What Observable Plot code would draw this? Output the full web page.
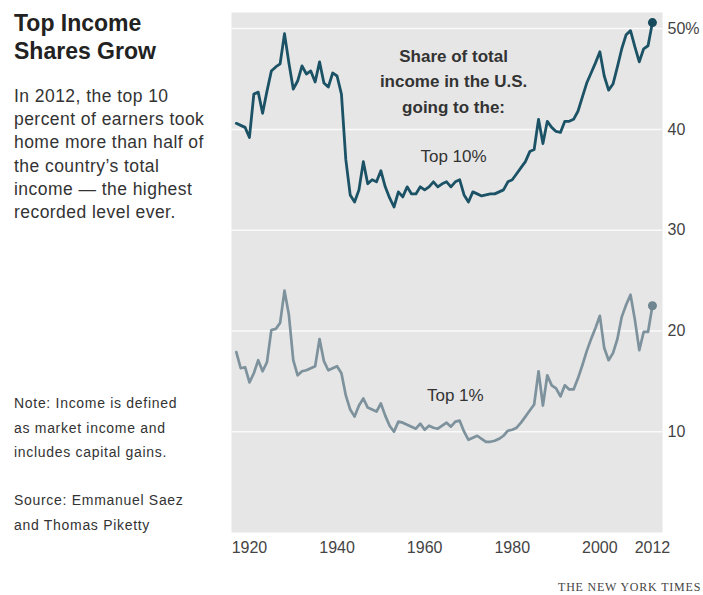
<!DOCTYPE html>
<html>
<head>
<meta charset="utf-8">
<script src="https://cdn.jsdelivr.net/npm/d3@7"></script>
<script src="https://cdn.jsdelivr.net/npm/@observablehq/plot@0.6"></script>
<style>
  html, body { margin: 0; padding: 0; background: #fff; }
  #page { position: relative; width: 703px; height: 595px; overflow: hidden; font-family: "Liberation Sans", Arial, sans-serif; color: #333; }
  .blk { position: absolute; left: 14px; white-space: nowrap; }
  #title { top: 9px; font-size: 23px; line-height: 28px; font-weight: bold; color: #222; }
  #desc { top: 85px; font-size: 17.5px; line-height: 23.2px; letter-spacing: 0.45px; color: #333; }
  #note { top: 391px; font-size: 14px; line-height: 24.5px; letter-spacing: 0.7px; color: #333; }
  #source { top: 488px; font-size: 14px; line-height: 24.5px; letter-spacing: 0.7px; color: #333; }
  #chart { position: absolute; left: 225px; top: 0; }
  #credit { position: absolute; left: 558px; top: 580px; font-family: "Liberation Serif", "Times New Roman", serif; font-size: 12px; letter-spacing: 0.8px; color: #444; white-space: nowrap; }
</style>
</head>
<body>
<div id="page">
  <div id="title" class="blk">Top Income<br>Shares Grow</div>
  <div id="desc" class="blk">In 2012, the top 10<br>percent of earners took<br>home more than half of<br>the country’s total<br>income — the highest<br>recorded level ever.</div>
  <div id="note" class="blk">Note: Income is defined<br>as market income and<br>includes capital gains.</div>
  <div id="source" class="blk">Source: Emmanuel Saez<br>and Thomas Piketty</div>
  <div id="chart"></div>
  <div id="credit">THE NEW YORK TIMES</div>
</div>
<script>
const years = [
  1917,1918,1919,1920,1921,1922,1923,1924,1925,1926,1927,1928,1929,1930,1931,1932,1933,1934,1935,1936,
  1937,1938,1939,1940,1941,1942,1943,1944,1945,1946,1947,1948,1949,1950,1951,1952,1953,1954,1955,1956,
  1957,1958,1959,1960,1961,1962,1963,1964,1965,1966,1967,1968,1969,1970,1971,1972,1973,1974,1975,1976,
  1977,1978,1979,1980,1981,1982,1983,1984,1985,1986,1987,1988,1989,1990,1991,1992,1993,1994,1995,1996,
  1997,1998,1999,2000,2001,2002,2003,2004,2005,2006,2007,2008,2009,2010,2011,2012
];
const top10 = [
  40.6,40.4,40.2,39.2,43.5,43.7,41.6,43.8,45.8,46.2,46.5,49.5,46.6,44.0,44.8,46.3,45.5,45.8,44.7,46.7,
  44.6,44.2,45.6,45.3,43.5,37.0,33.5,32.8,34.0,36.8,34.6,35.0,34.8,35.9,34.3,33.2,32.3,33.8,33.3,34.3,
  33.6,33.6,34.3,34.0,34.3,34.8,34.3,34.6,34.8,34.3,34.8,35.0,33.5,32.8,33.8,33.6,33.4,33.5,33.6,33.6,
  33.8,34.0,34.8,35.0,35.6,36.2,36.8,37.8,38.0,41.0,38.6,40.8,40.2,39.8,39.7,40.8,40.8,41.0,41.8,43.2,
  44.6,45.6,46.6,47.7,45.3,43.9,44.5,46.2,48.0,49.4,49.8,48.2,46.7,48.0,48.3,50.6
];
const top1 = [
  17.9,16.3,16.4,14.9,15.8,17.1,16.0,16.9,20.1,20.2,20.8,24.0,21.6,17.1,15.6,16.0,16.1,16.3,16.5,19.2,
  17.0,16.1,16.3,16.5,15.8,13.6,12.2,11.5,12.6,13.3,12.4,12.2,12.0,12.8,11.6,10.6,10.0,11.0,10.9,10.7,
  10.5,10.3,10.8,10.2,10.6,10.4,10.3,10.6,10.9,10.5,11.0,11.1,10.0,9.2,9.4,9.6,9.3,9.0,9.0,9.1,
  9.3,9.6,10.1,10.2,10.4,10.9,11.5,12.1,12.7,16.0,12.6,15.6,14.6,14.3,13.5,14.6,14.2,14.2,15.3,16.6,
  18.0,19.2,20.3,21.5,18.3,17.1,17.8,19.2,21.4,22.6,23.6,21.1,18.1,19.9,19.9,22.5
];
const yTicks = [10, 20, 30, 40, 50];
const xTicks = [1920, 1940, 1960, 1980, 2000, 2012];
const headerLines = ["Share of total", "income in the U.S.", "going to the:"];
const seriesLabels = ["Top 10%", "Top 1%"];

const rows10 = years.map((y, i) => ({year: y, value: top10[i]}));
const rows1 = years.map((y, i) => ({year: y, value: top1[i]}));
const last10 = [rows10[rows10.length - 1]];
const last1 = [rows1[rows1.length - 1]];

const c10 = "#1b5265";
const c1 = "#7d929c";

const chart = Plot.plot({
  width: 478,
  height: 560,
  marginLeft: 6,
  marginRight: 41,
  marginTop: 12,
  marginBottom: 28,
  x: {domain: [1915.9, 2014.3]},
  y: {domain: [0, 51.6]},
  style: {background: "transparent", fontFamily: "'Liberation Sans', Arial, sans-serif", overflow: "visible"},
  marks: [
    Plot.frame({fill: "#e6e6e6", stroke: null}),
    Plot.ruleY(yTicks, {stroke: "#fafafa", strokeWidth: 1.5}),
    Plot.line(rows1, {x: "year", y: "value", stroke: c1, strokeWidth: 2.7, strokeLinejoin: "round"}),
    Plot.line(rows10, {x: "year", y: "value", stroke: c10, strokeWidth: 2.8, strokeLinejoin: "round"}),
    Plot.dot(last1, {x: "year", y: "value", r: 4.5, fill: "#6f8590", stroke: null}),
    Plot.dot(last10, {x: "year", y: "value", r: 4.5, fill: "#174a5c", stroke: null}),
    Plot.text([headerLines.join("\n")], {x: 1966.6, y: 48.5, text: d => d, lineAnchor: "top", lineHeight: 1.5, fontSize: 17, fontWeight: "bold", fill: "#333", textAnchor: "middle", letterSpacing: "0.5px"}),
    Plot.text([seriesLabels[0]], {x: 1966.6, y: 37.3, text: d => d, fontSize: 17, fill: "#333", textAnchor: "middle", letterSpacing: "0.3px"}),
    Plot.text([seriesLabels[1]], {x: 1967.0, y: 13.6, text: d => d, fontSize: 17, fill: "#333", textAnchor: "middle", letterSpacing: "0.3px"}),
    Plot.axisY({anchor: "right", ticks: yTicks, tickSize: 0, tickPadding: 5, tickFormat: d => d === 50 ? "50%" : String(d), fontSize: 16, fill: "#444", label: null, letterSpacing: "0.3px"}),
    Plot.axisX({anchor: "bottom", ticks: xTicks, tickSize: 0, tickPadding: 9, tickFormat: d => String(d), fontSize: 16, fill: "#444", label: null, letterSpacing: "0.4px"})
  ]
});
document.getElementById("chart").appendChild(chart);
</script>
</body>
</html>
